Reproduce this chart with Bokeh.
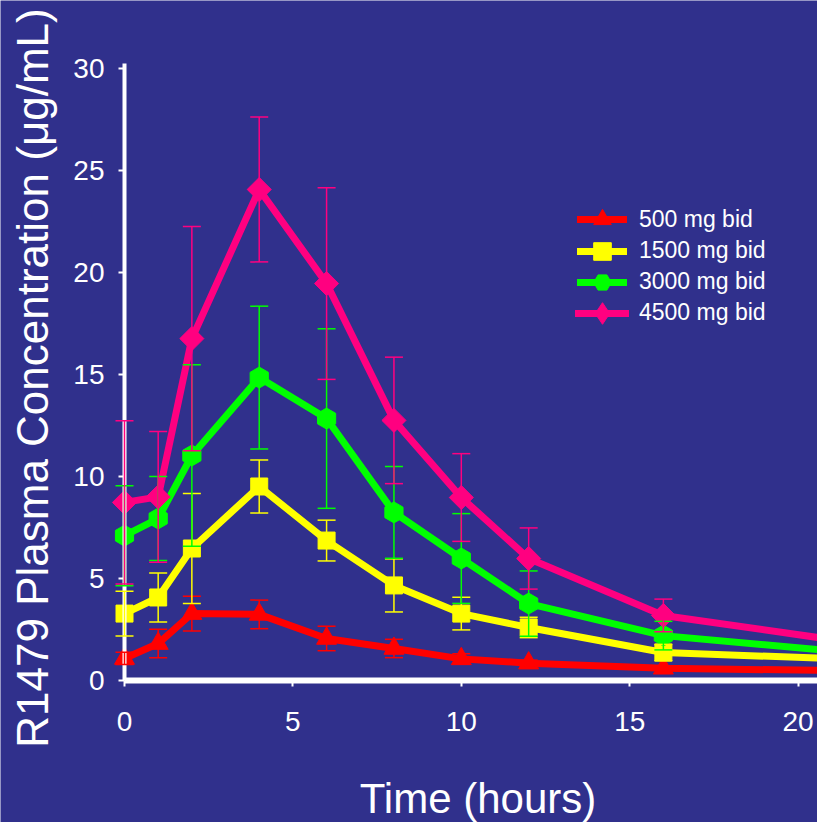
import numpy as np
from bokeh.plotting import figure
from bokeh.models import (ColumnDataSource, Whisker, TeeHead, Legend, LegendItem,
                          FixedTicker, Range1d, Label, CDSView, IndexFilter)
from bokeh.embed import file_html
from bokeh.resources import INLINE

# ---------------- data ----------------
time_h = [0, 1, 2, 4, 6, 8, 10, 12, 16, 24]

mean_500 = [1.08, 1.81, 3.28, 3.24, 2.06, 1.57, 1.06, 0.85, 0.60, 0.42]
sd_500 = [0.30, 0.70, 0.85, 0.70, 0.60, 0.45, 0.25, 0.15, 0.10, 0.10]

mean_1500 = [3.28, 4.07, 6.47, 9.51, 6.86, 4.66, 3.28, 2.60, 1.37, 0.90]
sd_1500 = [1.10, 1.20, 2.70, 1.30, 1.00, 1.30, 0.80, 0.50, 0.40, 0.30]

mean_3000 = [7.10, 7.94, 11.03, 14.85, 12.84, 8.24, 5.98, 3.77, 2.20, 1.00]
sd_3000 = [2.45, 2.06, 4.45, 3.50, 4.40, 2.25, 2.20, 1.60, 0.70, 0.40]

mean_4500 = [8.73, 9.00, 16.76, 24.07, 19.46, 12.75, 8.97, 5.98, 3.19, 1.30]
sd_4500 = [4.00, 3.20, 5.50, 3.55, 4.70, 3.10, 2.15, 1.50, 0.80, 0.50]

series_labels = ["500 mg bid", "1500 mg bid", "3000 mg bid", "4500 mg bid"]
series_colors = ["#FF0000", "#FFFF00", "#00FF00", "#FF0080"]
x_ticks = [0, 5, 10, 15, 20]
y_ticks = [0, 5, 10, 15, 20, 25, 30]

x_title = "Time (hours)"
y_title = "R1479 Plasma Concentration (\u03bcg/mL)"

# ---------------- styling ----------------
FONT = "Liberation Sans"
BG = "#30308C"
W, H = 817, 822
X0_PX, PX_PER_X = 124.0, 33.68   # where x=0 sits, pixels per hour
Y0_PX, PX_PER_Y = 680.0, 20.4    # where y=0 sits, pixels per ug/mL

p = figure(width=W, height=H, output_backend="svg", toolbar_location=None,
           x_range=Range1d(-X0_PX / PX_PER_X, (W - X0_PX) / PX_PER_X),
           y_range=Range1d(-(H - Y0_PX) / PX_PER_Y, Y0_PX / PX_PER_Y),
           min_border_left=0, min_border_right=0, min_border_top=0,
           min_border_bottom=0)
p.background_fill_color = BG
p.border_fill_color = BG
p.outline_line_color = None
p.grid.visible = False

# axes (drawn at x=0 / y=0 inside the frame)
for ax in (p.xaxis[0], p.yaxis[0]):
    ax.axis_line_color = "white"
    ax.major_tick_line_color = "white"
    ax.major_tick_line_width = 2
    ax.major_tick_out = 6
    ax.major_tick_in = 0
    ax.minor_tick_line_color = None
    ax.major_label_text_color = "white"
    ax.major_label_text_font = FONT
    ax.major_label_text_font_size = "28px"
    ax.fixed_location = 0

p.xaxis.ticker = FixedTicker(ticks=x_ticks)
p.yaxis.ticker = FixedTicker(ticks=y_ticks)
p.xaxis.axis_line_width = 6
p.xaxis.bounds = (0, 30)
p.xaxis.major_label_standoff = 25
p.yaxis.axis_line_width = 4
p.yaxis.bounds = (0, 30.25)
p.yaxis.major_label_standoff = 14

p.add_layout(Label(x=32, y=H - 377.5, x_units="screen", y_units="screen",
                   text=y_title, angle=np.pi / 2, text_align="center",
                   text_baseline="alphabetic", text_color="white",
                   text_font=FONT, text_font_size="44px"))
p.add_layout(Label(x=477.5, y=H - 798, x_units="screen", y_units="screen",
                   text=x_title, text_align="center",
                   text_baseline="alphabetic", text_color="white",
                   text_font=FONT, text_font_size="42px"))

means = [mean_500, mean_1500, mean_3000, mean_4500]
sds = [sd_500, sd_1500, sd_3000, sd_4500]
# (plot marker, size, angle, legend marker)
markers = [("triangle", 20, 0.0, None), ("square", 17, 0.0, None),
           ("hex", 21, np.pi / 2, None), ("square", 17, np.pi / 4, "diamond")]
legend_rows = [219, 250.5, 281.5, 312.5]   # row centres (px from top)
LEG_CX, LEG_TEXT_X = 602, 639                # swatch centre, label start (px)

for lab, col, m, s, (mk, sz, ang, lmk), row in zip(series_labels, series_colors,
                                                   means, sds, markers, legend_rows):
    m = np.array(m)
    s = np.array(s)
    src = ColumnDataSource(dict(t=time_h, y=m, upper=m + s, lower=m - s))
    lr = p.line("t", "y", source=src, line_color=col, line_width=7,
                line_join="round", line_cap="round")
    sr = p.scatter("t", "y", source=src, marker=mk, size=sz, angle=ang,
                   fill_color=col, line_color=col, line_width=1)
    leg_rs = [lr, sr]
    gw, gh = 50, 44
    if lmk is not None:
        # diamond swatch for the legend; it only holds the last (off-axis, 24 h) point
        lsr = p.scatter("t", "y", source=src, marker=lmk, size=sz,
                        fill_color=col, line_color=col, line_width=1,
                        view=CDSView(filter=IndexFilter(indices=[len(time_h) - 1])))
        leg_rs = [lr, lsr]
        gw, gh = 54, 58
    w = Whisker(source=src, base="t", upper="upper", lower="lower",
                line_color=col, line_width=1.5, level="annotation",
                upper_head=TeeHead(size=18, line_color=col, line_width=1.5),
                lower_head=TeeHead(size=18, line_color=col, line_width=1.5))
    p.add_layout(w)
    leg = Legend(items=[LegendItem(label=lab, renderers=leg_rs)],
                 location=(LEG_CX - gw / 2, H - (row + gh / 2)), padding=0, margin=0,
                 glyph_width=gw, glyph_height=gh,
                 label_standoff=int(LEG_TEXT_X - (LEG_CX + gw / 2)),
                 label_text_font=FONT, label_text_font_size="23px",
                 label_text_color="white", background_fill_alpha=0,
                 border_line_alpha=0)
    p.add_layout(leg)

open("out.html", "w").write(file_html(p, INLINE))
